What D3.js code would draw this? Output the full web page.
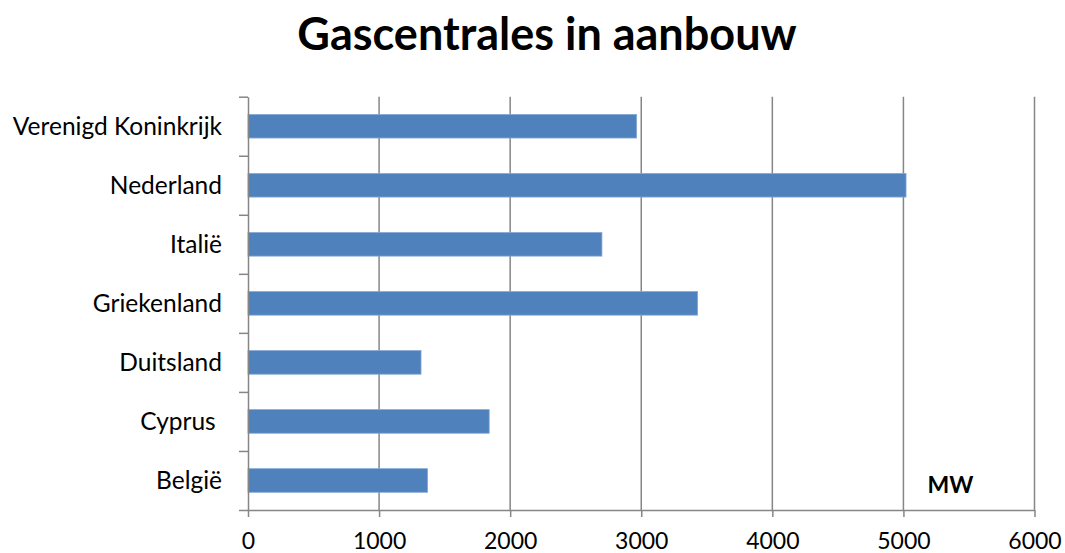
<!DOCTYPE html>
<html>
<head>
<meta charset="utf-8">
<script src="https://cdn.jsdelivr.net/npm/d3@7"></script>
<style>
  html, body { margin: 0; padding: 0; background: #fff; }
  svg { display: block; }
  text { font-family: Lato, "Open Sans", sans-serif; fill: #000; }
</style>
</head>
<body>
<svg id="chart" width="1065" height="553"></svg>
<script>
// Gas-fired power plants under construction, capacity in MW
const countries = ["Verenigd Koninkrijk", "Nederland", "Italië", "Griekenland", "Duitsland", "Cyprus ", "België"];
const capacityMW = [2965, 5020, 2700, 3430, 1320, 1840, 1370];
const xTicks = [0, 1000, 2000, 3000, 4000, 5000, 6000];

const svg = d3.select("#chart");
const plot = { left: 248, right: 1034.5, top: 96.7, bottom: 510 };
const gridColor = "#868686";

const x = d3.scaleLinear().domain([0, 6000]).range([plot.left, plot.right]);
const y = d3.scaleBand().domain(countries).range([plot.top, plot.bottom])
  .paddingInner(0.6).paddingOuter(0.3);
// slot boundaries for the category axis tick marks
const ySlots = d3.scaleLinear().domain([0, countries.length]).range([plot.top, plot.bottom]);

// Title
svg.append("text")
  .attr("x", 547).attr("y", 50)
  .attr("text-anchor", "middle")
  .style("font-weight", "bold").style("font-size", "45px")
  .text("Gascentrales in aanbouw");

// Vertical gridlines
svg.append("g")
  .selectAll("line")
  .data(xTicks.slice(1))
  .join("line")
  .attr("x1", d => x(d)).attr("x2", d => x(d))
  .attr("y1", plot.top).attr("y2", plot.bottom)
  .attr("stroke", gridColor).attr("stroke-width", 1.5);

// Bars
svg.append("g")
  .selectAll("rect")
  .data(countries.map((c, i) => ({ c, v: capacityMW[i] })))
  .join("rect")
  .attr("x", x(0))
  .attr("y", d => y(d.c))
  .attr("width", d => x(d.v) - x(0))
  .attr("height", y.bandwidth())
  .attr("fill", "#4F81BD")
  .attr("stroke", "#86a8d6").attr("stroke-width", 0.8);

// Bottom axis
const xAxis = svg.append("g")
  .attr("transform", `translate(0,${plot.bottom})`)
  .call(d3.axisBottom(x).tickValues(xTicks).tickFormat(d3.format("d"))
    .tickSize(7).tickSizeOuter(0).tickPadding(16));
xAxis.select(".domain").attr("stroke", gridColor).attr("stroke-width", 1.5);
xAxis.selectAll(".tick line").attr("stroke", gridColor).attr("stroke-width", 1.5);
xAxis.selectAll(".tick text")
  .style("font-family", "Lato, sans-serif").style("font-size", "23px").attr("fill", "#000");

// Left axis: ticks mark the boundaries between categories
const yAxis = svg.append("g")
  .attr("transform", `translate(${plot.left},0)`)
  .call(d3.axisLeft(ySlots).tickValues(d3.range(countries.length + 1)).tickSize(9)
    .tickSizeOuter(0).tickFormat(""));
yAxis.select(".domain").attr("stroke", gridColor).attr("stroke-width", 1.5);
yAxis.selectAll(".tick line").attr("stroke", gridColor).attr("stroke-width", 1.5);

// Category labels
svg.append("g")
  .selectAll("text")
  .data(countries)
  .join("text")
  .attr("x", 222)
  .attr("y", d => y(d) + y.bandwidth() / 2)
  .attr("dy", "0.36em")
  .attr("text-anchor", "end")
  .style("font-size", "24.5px")
  .style("white-space", "pre")
  .text(d => d);

// Unit label
svg.append("text")
  .attr("x", 950.5).attr("y", 493)
  .attr("text-anchor", "middle")
  .style("font-weight", "bold").style("font-size", "23px")
  .text("MW");
</script>
</body>
</html>
